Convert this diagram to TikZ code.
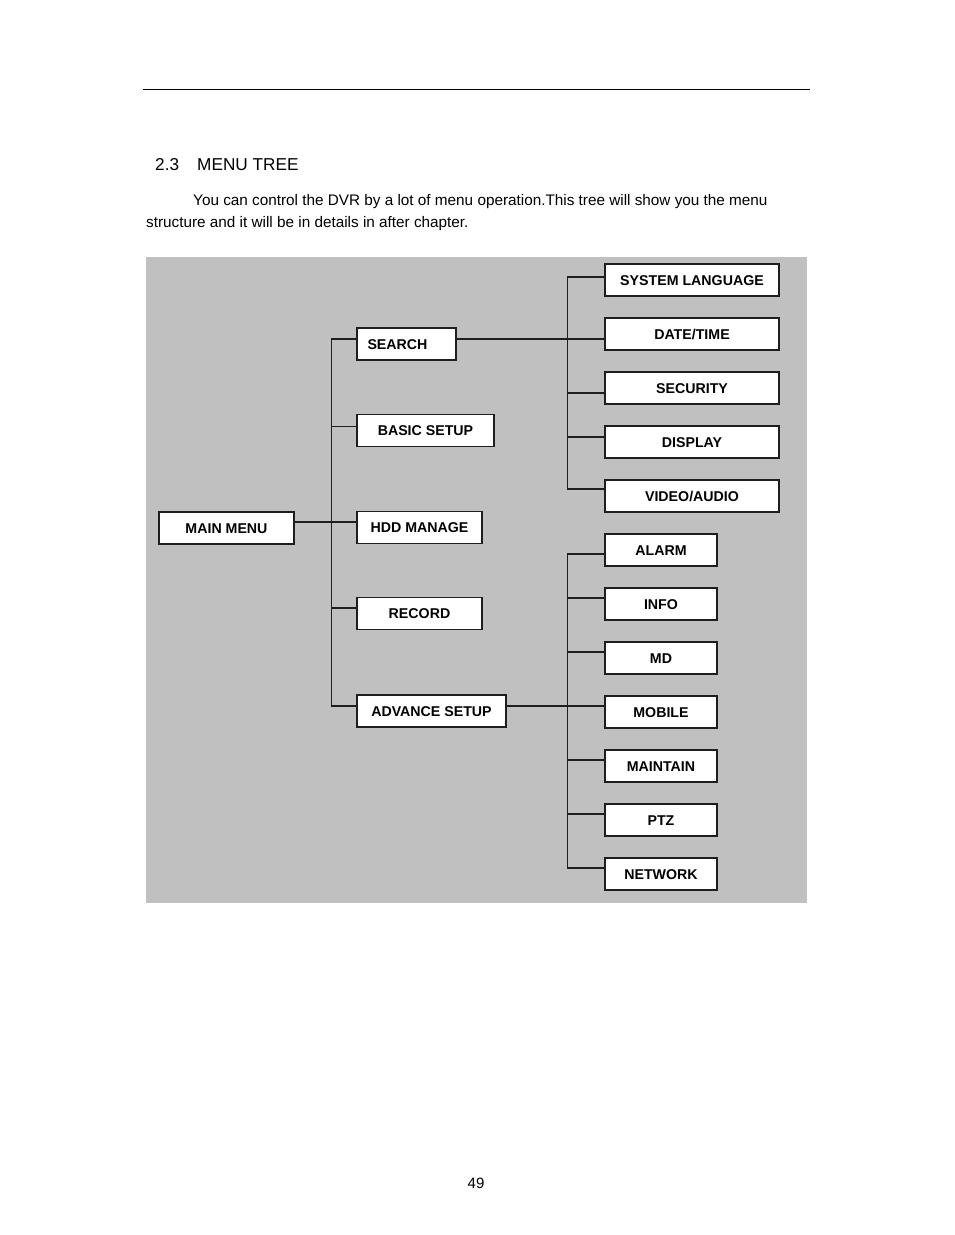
\documentclass[tikz,border=0pt]{standalone}
\usepackage{fontspec}
\setmainfont{Liberation Sans}
\usepackage{xcolor}
\usetikzlibrary{positioning,calc}
\definecolor{panelgray}{RGB}{192, 192, 192}
\definecolor{boxline}{RGB}{30, 30, 30}

\begin{document}
\begin{tikzpicture}[x=1pt, y=-1pt]
    \tikzstyle{mbox} = [draw=boxline, fill=white, line width=1.1pt, minimum height=32pt, inner sep=0pt, text height=10pt, text depth=0pt, font=\fontsize{14.2}{16}\selectfont\bfseries]
    \tikzstyle{mline} = [line width=1.1pt, boxline]
    \tikzstyle{ptext} = [anchor=base west, inner sep=0pt, font=\fontsize{15.3}{18}\selectfont]

    \useasboundingbox (0,0) rectangle (954,1235);

    % page header and text
    \draw[line width=0.9pt] (143,89) -- (810,89);
    \node[ptext, font=\fontsize{17.2}{20}\selectfont] (secnum) at (155,170) {2.3};
    \node[ptext, font=\fontsize{17.2}{20}\selectfont] (title) at (197,170) {MENU TREE};
    \node[ptext] (para1) at (193,205) {You can control the DVR by a lot of menu operation.This tree will show you the menu};
    \node[ptext] (para2) at (146,227) {structure and it will be in details in after chapter.};
    \node[anchor=base, inner sep=0pt, font=\fontsize{15}{18}\selectfont] (pagenum) at (476,1188) {49};

    \fill[panelgray] (146,257) rectangle (807,903);

    \node[mbox, minimum width=135pt] (main) at (226.5,528) {MAIN MENU};

    \node[mbox, minimum width=99pt] (search) at (406.5,344) {SEARCH\kern18pt};
    \node[mbox, minimum width=137pt] (basic) at (425.5,430.5) {BASIC SETUP};
    \node[mbox, minimum width=125pt] (hdd) at (419.5,527.5) {HDD MANAGE};
    \node[mbox, minimum width=125pt] (record) at (419.5,613.5) {RECORD};
    \node[mbox, minimum width=149pt] (advance) at (431.5,711) {ADVANCE SETUP};

    \node[mbox, minimum width=174pt] (syslang) at (692,280) {SYSTEM LANGUAGE};
    \node[mbox, minimum width=174pt] (date) at (692,334) {DATE/TIME};
    \node[mbox, minimum width=174pt] (security) at (692,388) {SECURITY};
    \node[mbox, minimum width=174pt] (display) at (692,442) {DISPLAY};
    \node[mbox, minimum width=174pt] (video) at (692,496) {VIDEO/AUDIO};

    \node[mbox, minimum width=112pt] (alarm) at (661,550) {ALARM};
    \node[mbox, minimum width=112pt] (info) at (661,604) {INFO};
    \node[mbox, minimum width=112pt] (md) at (661,658) {MD};
    \node[mbox, minimum width=112pt] (mobile) at (661,712) {MOBILE};
    \node[mbox, minimum width=112pt] (maintain) at (661,766) {MAINTAIN};
    \node[mbox, minimum width=112pt] (ptz) at (661,820) {PTZ};
    \node[mbox, minimum width=112pt] (network) at (661,874) {NETWORK};

    % main menu branches
    \draw[mline] ([yshift=6pt]main.east) -- ([yshift=5.5pt]hdd.west);
    \draw[mline] ([yshift=5pt]search.west) -- ++(-25,0) |- ([yshift=5pt]advance.west);
    \draw[mline] ([yshift=4pt]basic.west) -- ++(-25,0);
    \draw[mline] ([yshift=5.5pt]record.west) -- ++(-25,0);

    % search branches
    \draw[mline] ([yshift=5pt]search.east) -- ([yshift=-5pt]date.west);
    \draw[mline] ([yshift=3pt]syslang.west) -- ++(-37,0) |- ([yshift=7pt]video.west);
    \draw[mline] ([yshift=-5pt]security.west) -- ++(-37,0);
    \draw[mline] ([yshift=5pt]display.west) -- ++(-37,0);

    % advance setup branches
    \draw[mline] ([yshift=5pt]advance.east) -- ([yshift=6pt]mobile.west);
    \draw[mline] ([yshift=-4pt]alarm.west) -- ++(-37,0) |- ([yshift=6pt]network.west);
    \draw[mline] ([yshift=6pt]info.west) -- ++(-37,0);
    \draw[mline] ([yshift=6pt]md.west) -- ++(-37,0);
    \draw[mline] ([yshift=6pt]maintain.west) -- ++(-37,0);
    \draw[mline] ([yshift=6pt]ptz.west) -- ++(-37,0);
\end{tikzpicture}
\end{document}
